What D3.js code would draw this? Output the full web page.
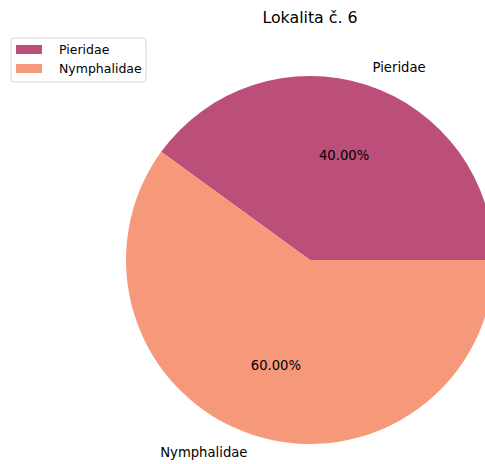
<!DOCTYPE html>
<html>
<head>
<meta charset="utf-8">
<script src="https://cdn.jsdelivr.net/npm/d3@7"></script>
<style>
  body { margin: 0; background: #fff; }
  text { font-family: "DejaVu Sans", sans-serif; fill: #000; }
</style>
</head>
<body>
<div id="chart"></div>
<script>
const title = 'Lokalita č. 6';
const families = ['Pieridae', 'Nymphalidae'];
const shares = [40, 60];
const colors = ['#bb4f7a', '#f6997b'];

const width = 485;
const height = 464;
const cx = 310;
const cy = 260;
const radius = 184;

const svg = d3
  .select('#chart')
  .append('svg')
  .attr('width', width)
  .attr('height', height);

svg
  .append('text')
  .attr('x', cx)
  .attr('y', 23)
  .attr('text-anchor', 'middle')
  .style('font-size', '15.8px')
  .text(title);

const data = families.map((name, i) => ({ name, value: shares[i], color: colors[i] }));

// matplotlib style: start at 3 o'clock, go counterclockwise
const pie = d3
  .pie()
  .value((d) => d.value)
  .sort(null)
  .startAngle(Math.PI / 2)
  .endAngle(Math.PI / 2 - 2 * Math.PI);

const arcs = pie(data);
const arc = d3.arc().innerRadius(0).outerRadius(radius);

const g = svg.append('g').attr('transform', `translate(${cx}, ${cy})`);

g.selectAll('path')
  .data(arcs)
  .join('path')
  .attr('d', arc)
  .style('fill', (d) => d.data.color);

const mid = (d) => (d.startAngle + d.endAngle) / 2;

// outer labels
g.selectAll('.lbl')
  .data(arcs)
  .join('text')
  .attr('class', 'lbl')
  .attr('x', (d) => Math.sin(mid(d)) * radius * 1.1)
  .attr('y', (d) => -Math.cos(mid(d)) * radius * 1.1)
  .attr('dy', '0.35em')
  .attr('text-anchor', (d) => (Math.sin(mid(d)) > 0 ? 'start' : 'end'))
  .style('font-size', '13.2px')
  .text((d) => d.data.name);

// percentages
g.selectAll('.pct')
  .data(arcs)
  .join('text')
  .attr('class', 'pct')
  .attr('x', (d) => Math.sin(mid(d)) * radius * 0.6)
  .attr('y', (d) => -Math.cos(mid(d)) * radius * 0.6)
  .attr('dy', '0.35em')
  .attr('text-anchor', 'middle')
  .style('font-size', '13.2px')
  .text((d) => d.data.value.toFixed(2) + '%');

// legend
const legend = svg.append('g').attr('transform', 'translate(11, 38)');
legend
  .append('rect')
  .attr('width', 135)
  .attr('height', 44)
  .attr('rx', 3)
  .style('fill', '#fff')
  .style('stroke', '#d6d6d6');

const items = legend
  .selectAll('.item')
  .data(data)
  .join('g')
  .attr('class', 'item')
  .attr('transform', (d, i) => `translate(5, ${7 + i * 19})`);

items
  .append('rect')
  .attr('width', 26)
  .attr('height', 9)
  .style('fill', (d) => d.color);

items
  .append('text')
  .attr('x', 43)
  .attr('y', 5)
  .attr('dy', '0.35em')
  .style('font-size', '12.5px')
  .text((d) => d.name);
</script>
</body>
</html>
